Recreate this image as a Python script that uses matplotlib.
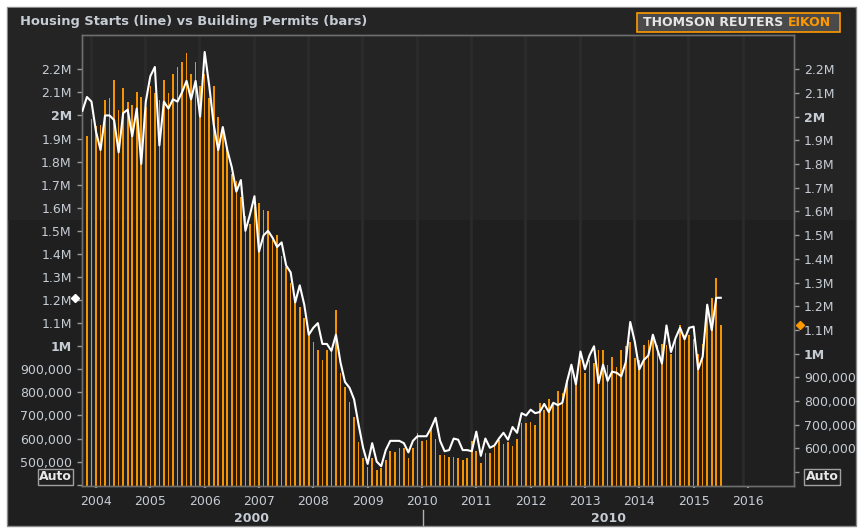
import matplotlib
matplotlib.use("Agg")
import matplotlib.pyplot as plt
import matplotlib.patches as mpatches
import matplotlib.transforms as mtransforms
from matplotlib.lines import Line2D
import pandas as pd

# ---------------- data (thousands of units, SAAR) ----------------
start_month = "2003-10"
housing_starts = [
    2020, 2080, 2060,
    1930, 1850, 2000, 2000, 1980, 1840, 2010, 2025, 1910, 2030, 1790, 2060,
    2170, 2210, 1870, 2060, 2030, 2070, 2060, 2100, 2150, 2070, 2150, 1995,
    2275, 2130, 1960, 1850, 1950, 1850, 1775, 1670, 1720, 1500, 1570, 1650,
    1410, 1480, 1500, 1470, 1430, 1450, 1350, 1320, 1190, 1264, 1180, 1050,
    1080, 1100, 1010, 1010, 980, 1050, 930, 845, 820, 770, 660, 560,
    490, 580, 500, 480, 550, 590, 590, 590, 580, 540, 590, 610,
    610, 610, 645, 690, 590, 545, 550, 600, 595, 550, 550, 545,
    630, 525, 600, 560, 570, 600, 625, 595, 650, 625, 710, 700,
    725, 710, 715, 750, 715, 755, 745, 755, 845, 920, 835, 977,
    900, 960, 1000, 840, 920, 850, 890, 885, 870, 930, 1105, 1020,
    900, 940, 960, 1050, 985, 925, 1090, 975, 1035, 1080, 1030, 1080,
    1085, 900, 955, 1180, 1070, 1210, 1210,
]
building_permits = [
    2020, 1920, 1990,
    1960, 1965, 2070, 2080, 2155, 2030, 2120, 2060, 2050, 2105, 2085, 2040,
    2130, 2100, 2070, 2155, 2100, 2180, 2210, 2230, 2270, 2180, 2230, 2130,
    2180, 2080, 2130, 2000, 1930, 1870, 1760, 1730, 1660, 1580, 1545, 1620,
    1634, 1606, 1600, 1480, 1500, 1410, 1367, 1300, 1240, 1198, 1149, 1092,
    1050, 1015, 973, 1015, 1015, 1184, 917, 860, 797, 734, 628, 558,
    522, 558, 510, 515, 550, 590, 585, 600, 600, 560, 600, 663,
    630, 635, 690, 640, 570, 570, 565, 565, 560, 550, 560, 630,
    590, 540, 580, 580, 620, 635, 620, 625, 610, 640, 705, 705,
    710, 700, 790, 760, 810, 790, 840, 832, 888, 945, 888, 973,
    917, 973, 960, 1015, 1015, 950, 987, 945, 1015, 1030, 1050, 980,
    973, 1036, 1057, 1071, 1036, 1040, 1036, 1000, 1057, 1120, 1080, 1080,
    1060, 1000, 1040, 1200, 1235, 1320, 1120,
]
year_ticks = list(range(2004, 2017))
left_ticks = [400, 500, 600, 700, 800, 900, 1000, 1100, 1200, 1300, 1400,
              1500, 1600, 1700, 1800, 1900, 2000, 2100, 2200]
right_ticks = [500, 600, 700, 800, 900, 1000, 1100, 1200, 1300, 1400,
               1500, 1600, 1700, 1800, 1900, 2000, 2100, 2200]
decade_labels = ["2000", "2010"]
title = "Housing Starts (line) vs Building Permits (bars)"

# ---------------- styling ----------------
W, H = 861, 529
TXT = "#c6ccd4"
ORANGE = "#ff9900"
BG = "#1f1f1f"
BG_TOP = "#242424"

fig = plt.figure(figsize=(W / 100, H / 100), dpi=100)
fig.patch.set_facecolor("white")


def fx(px):
    return px / W


def fy(py):
    return 1 - py / H


# dark panel with lighter top band
fig.patches.append(mpatches.Rectangle((fx(7), fy(526)), fx(856) - fx(7), fy(7) - fy(526),
                                      transform=fig.transFigure, facecolor=BG,
                                      edgecolor="#8a8a8a", lw=1.0, zorder=-10))
fig.patches.append(mpatches.Rectangle((fx(8), fy(220)), fx(855) - fx(8), fy(8) - fy(220),
                                      transform=fig.transFigure, facecolor=BG_TOP,
                                      edgecolor="none", zorder=-9))

dates = pd.date_range(start_month, periods=len(housing_starts), freq="MS")
xv = list(dates.year + (dates.month - 1) / 12.0)

L, R, T, B = 81.7, 794.3, 35.0, 485.7
ax = fig.add_axes([fx(L), fy(B), fx(R) - fx(L), fy(T) - fy(B)])
ax2 = ax.twinx()
ax2.set_zorder(1)
ax.set_zorder(2)
ax.patch.set_visible(False)
ax2.patch.set_visible(False)

x0 = 2004 - (96 - L) / 54.33
x1 = 2004 + (R - 96) / 54.33
ax.set_xlim(x0, x1)
ax.set_ylim(395.7, 2348.6)
ax2.set_ylim(442.3, 2344.8)

# vertical grid lines
for yr in year_ticks:
    ax2.axvline(yr - 0.1, color="#2b2b2b", lw=2.0, zorder=0)

ax2.bar(xv, building_permits, width=0.03, color="#f59300", zorder=2, linewidth=0)
ax.plot(xv, housing_starts, color="white", lw=1.5, zorder=3, solid_joinstyle="round")


def fmt(v):
    if v <= 400:
        return ""
    if v >= 1000:
        return "{:g}M".format(v / 1000)
    return "{:,}".format(int(v * 1000))


ax.set_yticks(left_ticks)
ax.set_yticklabels([fmt(v) for v in left_ticks])
ax2.set_yticks(right_ticks)
ax2.set_yticklabels([fmt(v) if v >= 600 else "" for v in right_ticks])
for a in (ax, ax2):
    for lab, v in zip(a.get_yticklabels(), a.get_yticks()):
        if v in (1000, 2000):
            lab.set_fontweight("bold")

ax.set_xticks(year_ticks)
ax.set_xticklabels([str(y) for y in year_ticks])

ax.tick_params(axis="y", colors="#9a9a9a", labelcolor=TXT, labelsize=9, length=3.6, pad=3.6, width=1)
ax2.tick_params(axis="y", colors="#9a9a9a", labelcolor=TXT, labelsize=9, length=3.6, pad=3.4, width=1)
ax.tick_params(axis="x", colors="#9a9a9a", labelcolor=TXT, labelsize=9, length=1.5, pad=5.5, width=1.5)

for a in (ax, ax2):
    for s in a.spines.values():
        s.set_color("#6e6e6e")
        s.set_linewidth(1.0)

# end-value markers
trL = mtransforms.blended_transform_factory(ax.transAxes, ax.transData)
ax.plot([-0.009], [housing_starts[-1]], marker="D", color="white", ms=4.5,
        transform=trL, clip_on=False, zorder=5)
trR = mtransforms.blended_transform_factory(ax2.transAxes, ax2.transData)
ax2.plot([1.008], [building_permits[-1]], marker="D", color=ORANGE, ms=4.5,
         transform=trR, clip_on=False, zorder=5)

# Auto boxes
for cx in (55.5, 822):
    fig.text(fx(cx), fy(477), "Auto", ha="center", va="center", fontsize=9,
             fontweight="bold", color="#e8e8e8",
             bbox=dict(boxstyle="square,pad=0.12", facecolor=BG, edgecolor="#a0a0a0", lw=1))

# decade labels
fig.text(fx(252), fy(518), decade_labels[0], ha="center", va="center",
         fontsize=9, fontweight="bold", color=TXT)
fig.text(fx(608), fy(518), decade_labels[1], ha="center", va="center",
         fontsize=9, fontweight="bold", color=TXT)
fig.lines.append(Line2D([fx(423), fx(423)], [fy(510), fy(525)], transform=fig.transFigure,
                        color="#b0b0b0", lw=1))

# title
fig.text(fx(20), fy(22), title, ha="left", va="center", fontsize=9.4,
         fontweight="bold", color=TXT)

# logo
fig.patches.append(mpatches.Rectangle((fx(637), fy(32)), fx(840) - fx(637), fy(13) - fy(32),
                                      transform=fig.transFigure, facecolor="#4a4a4a",
                                      edgecolor=ORANGE, lw=1.2, zorder=1))
fig.text(fx(643), fy(23), "THOMSON REUTERS", ha="left", va="center", fontsize=9.0,
         fontweight="bold", color="#e6e6e6")
fig.text(fx(831), fy(23), "EIKON", ha="right", va="center", fontsize=9.0,
         fontweight="bold", color=ORANGE)

fig.savefig("out.png", dpi=100, facecolor=fig.get_facecolor())
